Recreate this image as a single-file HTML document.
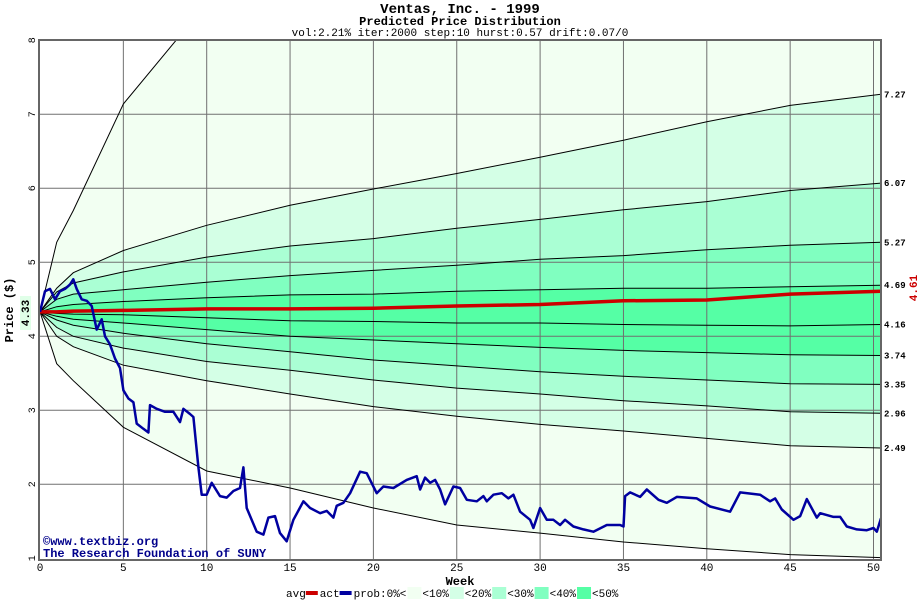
<!DOCTYPE html>
<html><head><meta charset="utf-8"><style>
body{margin:0;background:#fff;}
svg text{font-family:"Liberation Mono","DejaVu Sans Mono",monospace;}
</style></head><body>
<svg id="c" width="920" height="600" xmlns="http://www.w3.org/2000/svg">
<defs><clipPath id="pc"><rect x="40" y="40" width="841" height="520"/></clipPath></defs>
<text x="460" y="13" text-anchor="middle" font-size="14" font-weight="bold">Ventas, Inc. - 1999</text>
<text x="460" y="25" text-anchor="middle" font-size="12" font-weight="bold">Predicted Price Distribution</text>
<text x="460" y="36" text-anchor="middle" font-size="11">vol:2.21% iter:2000 step:10 hurst:0.57 drift:0.07/0</text>
<g id="bands" clip-path="url(#pc)"></g>
<g id="grid"></g>
<g id="lines" clip-path="url(#pc)"></g>
<g id="series" clip-path="url(#pc)"></g>
<rect x="39" y="40" width="842" height="520" fill="none" stroke="#666" stroke-width="2"/>
<g id="axes"></g>
<text x="43" y="545" font-size="12" font-weight="bold" fill="#00008b">©www.textbiz.org</text>
<text x="43" y="557" font-size="12" font-weight="bold" fill="#00008b">The Research Foundation of SUNY</text>
<text x="460" y="585" text-anchor="middle" font-size="12" font-weight="bold">Week</text>
<text transform="translate(13,310) rotate(-90)" text-anchor="middle" font-size="12" font-weight="bold">Price ($)</text>
<rect x="20" y="296" width="11" height="34" fill="#e0ffe8"/>
<text transform="translate(29,313) rotate(-90)" text-anchor="middle" font-size="11" font-weight="bold">4.33</text>
<text transform="translate(917,288) rotate(-90)" text-anchor="middle" font-size="11" font-weight="bold" fill="#cc0000">4.61</text>
<g id="legend"></g>
</svg>
<script>
const weeks=[0,1,2,5,10,15,20,25,30,35,40,45,50.45];
const pK=[4.33,5.27,5.7,7.14,8.5,9.2,9.8,10.3,10.8,11.2,11.6,12,12.4];
const pA=[4.33,4.65,4.86,5.16,5.5,5.77,5.99,6.20,6.42,6.65,6.90,7.12,7.27];
const pB=[4.33,4.6,4.72,4.87,5.07,5.22,5.32,5.46,5.58,5.71,5.82,5.97,6.07];
const pC=[4.33,4.5,4.57,4.63,4.73,4.82,4.89,4.96,5.04,5.09,5.17,5.23,5.27];
const pD=[4.33,4.4,4.43,4.47,4.52,4.56,4.57,4.61,4.63,4.65,4.65,4.67,4.69];
const pAvg=[4.33,4.33,4.34,4.35,4.37,4.37,4.38,4.41,4.43,4.48,4.49,4.57,4.61];
const pE=[4.33,4.31,4.3,4.29,4.25,4.21,4.20,4.18,4.18,4.16,4.15,4.14,4.16];
const pF=[4.33,4.27,4.23,4.18,4.09,4.0,3.95,3.90,3.85,3.81,3.78,3.75,3.74];
const pG=[4.33,4.22,4.15,4.04,3.9,3.79,3.68,3.60,3.52,3.46,3.41,3.36,3.35];
const pH=[4.33,4.12,4.0,3.84,3.66,3.54,3.41,3.30,3.22,3.13,3.06,2.98,2.96];
const pI=[4.33,4.0,3.86,3.61,3.4,3.22,3.05,2.92,2.81,2.72,2.62,2.52,2.49];
const pJ=[4.33,3.63,3.4,2.77,2.18,1.95,1.68,1.45,1.34,1.22,1.13,1.05,1.01];
const endLabels=["7.27","6.07","5.27","4.69","4.16","3.74","3.35","2.96","2.49"];
const actWeeks=[0,0.3,0.6,0.9,1.2,1.5,1.8,2.0,2.2,2.5,2.8,3.1,3.4,3.7,3.9,4.2,4.5,4.8,5.0,5.3,5.6,5.8,6.2,6.5,6.6,7,7.5,8,8.4,8.6,9,9.2,9.5,9.7,10,10.3,10.8,11.2,11.6,12,12.2,12.4,13,13.4,13.7,14.1,14.4,14.8,15.2,15.8,16.2,16.8,17.2,17.6,17.8,18.2,18.6,19.2,19.6,20.2,20.6,21.2,22,22.6,22.8,23.1,23.4,23.7,24,24.3,24.8,25.2,25.6,26.2,26.6,26.8,27.2,27.7,28.1,28.4,28.8,29.4,29.6,30,30.4,30.8,31.2,31.5,32,32.6,33.2,34,34.8,35,35.1,35.4,36,36.4,37.1,37.6,38.2,39.4,40.2,41.4,42,43.2,43.8,44.1,44.5,45.2,45.6,46,46.6,46.8,47.6,48,48.4,49,49.6,50,50.2,50.45];
const actPrices=[4.33,4.61,4.64,4.5,4.61,4.64,4.70,4.77,4.64,4.5,4.48,4.41,4.09,4.23,4.0,3.89,3.70,3.57,3.27,3.16,3.11,2.82,2.75,2.70,3.07,3.02,2.98,2.98,2.84,3.02,2.95,2.91,2.23,1.86,1.86,2.02,1.84,1.82,1.91,1.95,2.23,1.68,1.36,1.32,1.55,1.57,1.34,1.23,1.52,1.77,1.68,1.61,1.64,1.55,1.71,1.75,1.88,2.17,2.15,1.88,1.97,1.95,2.06,2.11,1.93,2.09,2.02,2.06,1.93,1.73,1.97,1.95,1.79,1.77,1.84,1.77,1.86,1.88,1.81,1.86,1.63,1.52,1.41,1.68,1.52,1.52,1.45,1.52,1.43,1.39,1.36,1.45,1.45,1.43,1.84,1.89,1.83,1.93,1.79,1.75,1.83,1.81,1.70,1.63,1.89,1.86,1.77,1.81,1.66,1.52,1.57,1.80,1.55,1.61,1.56,1.56,1.43,1.39,1.38,1.41,1.36,1.54];
const xTicks=[0,5,10,15,20,25,30,35,40,45,50];
const yTicks=[1,2,3,4,5,6,7,8];
const bandColors=["#f2fff2","#d4ffe6","#aaffd4","#80ffc0","#55ffa5"];
const legendLabels=["<10%","<20%","<30%","<40%","<50%"];

const NS="http://www.w3.org/2000/svg";
const X=w=>40+w*16.67;
const Y=p=>40.3+(8-p)*74;
function mk(tag,parent,attrs){const e=document.createElementNS(NS,tag);for(const k in attrs)e.setAttribute(k,attrs[k]);parent.appendChild(e);return e;}
function pts(arr){return weeks.map((w,i)=>X(w).toFixed(1)+","+Y(arr[i]).toFixed(1));}
const bands=document.getElementById('bands');
const pairs=[[pK,pA,0],[pA,pB,1],[pB,pC,2],[pC,pD,3],[pD,pF,4],[pF,pG,3],[pG,pH,2],[pH,pI,1],[pI,pJ,0]];
pairs.forEach((pr,i)=>{
  const poly=pts(pr[0]).concat(pts(pr[1]).reverse()).join(" ");
  const e=mk('polygon',bands,{points:poly,fill:bandColors[pr[2]],stroke:bandColors[pr[2]],'stroke-width':0.5});
  
  
});
const grid=document.getElementById('grid');
xTicks.slice(1).forEach(w=>{const e=mk('line',grid,{x1:X(w),x2:X(w),y1:40,y2:560,stroke:'#707070','stroke-width':1});
  });
yTicks.slice(1,-1).forEach(p=>{const e=mk('line',grid,{x1:40,x2:881,y1:Y(p),y2:Y(p),stroke:'#707070','stroke-width':1});
  });
const lines=document.getElementById('lines');
[pK,pA,pB,pC,pD,pE,pF,pG,pH,pI,pJ].forEach(arr=>{
  const e=mk('polyline',lines,{points:pts(arr).join(" "),fill:'none',stroke:'#000','stroke-width':1});
  
  
});
const series=document.getElementById('series');
const avg=mk('polyline',series,{points:pts(pAvg).join(" "),fill:'none',stroke:'#cc0000','stroke-width':3.5});


const act=mk('polyline',series,{points:actWeeks.map((w,i)=>X(w).toFixed(1)+","+Y(actPrices[i]).toFixed(1)).join(" "),fill:'none',stroke:'#0000a0','stroke-width':2.5,'stroke-linejoin':'round'});


const axes=document.getElementById('axes');
xTicks.forEach(w=>{const t=mk('text',axes,{x:X(w),y:571,'text-anchor':'middle','font-size':11});t.textContent=w;
  });
yTicks.forEach(p=>{const t=mk('text',axes,{transform:`translate(35,${Y(p)}) rotate(-90)`,'text-anchor':'middle','font-size':10});t.textContent=p;
  });
[pA,pB,pC,pD,pE,pF,pG,pH,pI].forEach((arr,i)=>{
  const t=mk('text',axes,{x:884,y:Y(arr[arr.length-1])+3,'font-size':9,'font-weight':'bold'});t.textContent=endLabels[i];
  });
const lg=document.getElementById('legend');
let lx=286;const ly=597;
function ltext(s,x){const t=mk('text',lg,{x:x,y:ly,'font-size':11});t.textContent=s;return x+s.length*6.6;}
lx=ltext("avg",lx);
let sw=mk('rect',lg,{x:lx,y:ly-6,width:12,height:4,fill:'#cc0000'});lx+=14;
lx=ltext("act",lx);
sw=mk('rect',lg,{x:lx,y:ly-6,width:12,height:4,fill:'#0000a0'});lx+=14;
lx=ltext("prob:0%<",lx);
bandColors.forEach((c,i)=>{
  const r=mk('rect',lg,{x:lx+1,y:ly-10,width:14,height:12,fill:c});
  
  lx+=16;lx=ltext(legendLabels[i],lx);
});
</script>
</body></html>
